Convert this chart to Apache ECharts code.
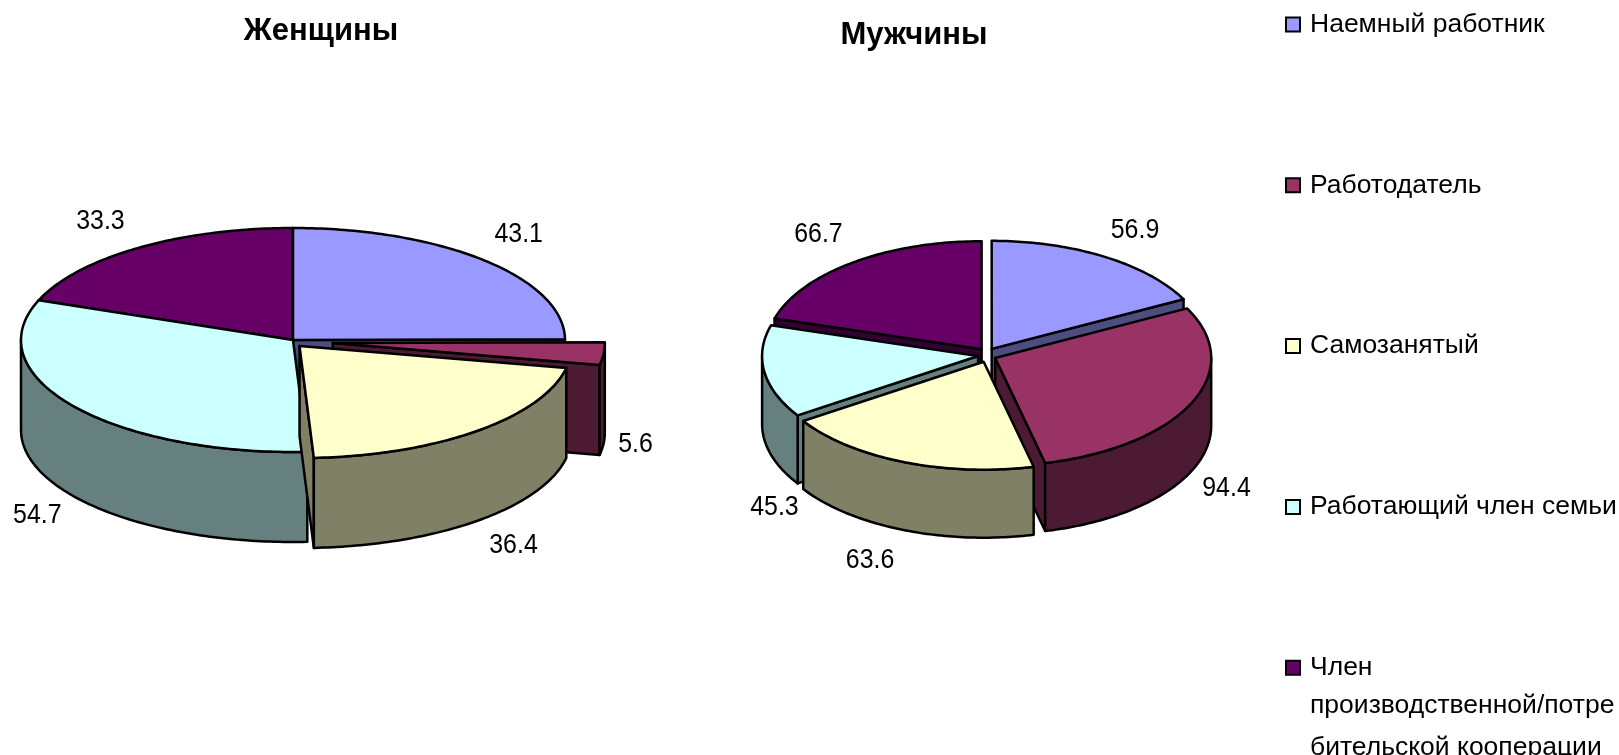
<!DOCTYPE html>
<html><head><meta charset="utf-8">
<style>html,body{margin:0;padding:0;background:#fff}#c{width:1619px;height:755px}</style>
<script src="https://cdn.jsdelivr.net/npm/echarts@6/dist/echarts.min.js"></script>
</head><body><div id="c"></div>
<script>
// ---- data ----
const categories = ['Наемный работник','Работодатель','Самозанятый','Работающий член семьи','Член производственной/потребительской кооперации'];
const womenValues = [43.1, 5.6, 36.4, 54.7, 33.3];
const menValues   = [56.9, 94.4, 63.6, 45.3, 66.7];
const pieTitles = ['Женщины','Мужчины'];
const legendFirstLine = ['Наемный работник','Работодатель','Самозанятый','Работающий член семьи','Член'];
const legendTailLines = 'производственной/потре\nбительской кооперации';

// ---- styles / layout ----
const topColors  = ['#9999FF','#993366','#FFFFCC','#CCFFFF','#660066'];
const sideColors = ['#4D4D80','#4D1A33','#808066','#668080','#330033'];
const stack = [3,5,6,4,2];           // painter's order, back to front
const pies = [
  {values:womenValues, cx:293, cy:340, rx:272, ry:112, depth:90, explode:[0,40,10,0,0],
   nudge:[[34,-26],[32,1],[36,25],[-36,19],[-38,-27]]},
  {values:menValues, cx:987, cy:355, rx:216, ry:108, depth:68, explode:[9,9,9,9,9],
   nudge:[[31,-26],[35,17],[-34,30],[10,67],[-34,-28]]}
];
const FONT = '"Liberation Sans", Arial, sans-serif';
const STROKE = {stroke:'#000', lineWidth:2.5, lineJoin:'round'};

function arc(cx,cy,rx,ry,a0,a1){
  const pts=[], n=Math.max(1,Math.ceil(Math.abs(a1-a0)));
  for(let i=0;i<=n;i++){
    const t=(a0+(a1-a0)*i/n)*Math.PI/180;
    pts.push([cx+rx*Math.sin(t), cy-ry*Math.cos(t)]);
  }
  return pts;
}
function shift(pts,d){return pts.map(p=>[p[0],p[1]+d]);}

function renderSlice(catIndex){
  return function(params,api){
    const pie=pies[api.value(0)], value=api.value(1);
    const total=pie.values.reduce((a,b)=>a+b,0);
    const before=pie.values.slice(0,catIndex).reduce((a,b)=>a+b,0);
    const a0=before/total*360, a1=(before+value)/total*360, mid=(a0+a1)/2*Math.PI/180;
    const d=pie.explode[catIndex];
    const cx=pie.cx+d*Math.sin(mid), cy=pie.cy-d*0.8*Math.cos(mid);
    const h=pie.depth, side=sideColors[catIndex], top=topColors[catIndex];
    const kids=[];
    const wall=pts=>({type:'polygon',shape:{points:pts},style:Object.assign({fill:side},STROKE)});
    // radial walls that face the viewer
    const radial=a=>{
      const rim=arc(cx,cy,pie.rx,pie.ry,a,a)[0];
      kids.push(wall([[cx,cy],rim,[rim[0],rim[1]+h],[cx,cy+h]]));
    };
    if(Math.sin(a0*Math.PI/180)<0) radial(a0);
    if(Math.sin(a1*Math.PI/180)>0) radial(a1);
    // outer wall: only the front half is seen
    const w0=Math.max(a0,90), w1=Math.min(a1,270);
    if(w1>w0){
      const rim=arc(cx,cy,pie.rx,pie.ry,w0,w1);
      kids.push(wall(rim.concat(shift(rim,h).reverse())));
    }
    // top face
    kids.push({type:'polygon',shape:{points:[[cx,cy]].concat(arc(cx,cy,pie.rx,pie.ry,a0,a1))},
      style:Object.assign({fill:top},STROKE)});
    // value label, anchored on the slice's rim
    const rimMid=[cx+pie.rx*Math.sin(mid), cy-pie.ry*Math.cos(mid)+(Math.cos(mid)<0?h:0)];
    const n=pie.nudge[catIndex];
    kids.push({type:'text',z2:100,x:rimMid[0]+n[0],y:rimMid[1]+n[1],scaleX:0.89,
      style:{text:String(value),x:0,y:0,align:'center',verticalAlign:'middle',fill:'#000',font:'28px '+FONT}});
    return {type:'group',children:kids};
  };
}

const chart=echarts.init(document.getElementById('c'),null,{renderer:'canvas'});
chart.setOption({
  animation:false,
  backgroundColor:'#fff',
  title:[
    {text:pieTitles[0],left:316,top:11,textAlign:'center',textStyle:{fontFamily:FONT,fontSize:31,fontWeight:'bold',color:'#000'}},
    {text:pieTitles[1],left:909,top:15,textAlign:'center',textStyle:{fontFamily:FONT,fontSize:31,fontWeight:'bold',color:'#000'}}
  ],
  legend:{
    orient:'vertical',left:1280,top:6,itemWidth:14,itemHeight:14,itemGap:133.8,icon:'rect',
    selectedMode:false,
    data:categories,
    formatter:name=>legendFirstLine[categories.indexOf(name)],
    itemStyle:{borderColor:'#000',borderWidth:2},
    textStyle:{fontFamily:FONT,fontSize:26.5,lineHeight:25.5,color:'#000',padding:[0,0,0,5]}
  },
  graphic:[{type:'text',left:1310,top:685,silent:true,
    style:{text:legendTailLines,fill:'#000',font:'26.5px '+FONT,lineHeight:42}}],
  series:categories.map((name,i)=>({
    type:'custom',name,coordinateSystem:'none',z:stack[i],silent:true,
    itemStyle:{color:topColors[i]},
    renderItem:renderSlice(i),
    data:[[0,womenValues[i]],[1,menValues[i]]]
  }))
});
</script></body></html>
